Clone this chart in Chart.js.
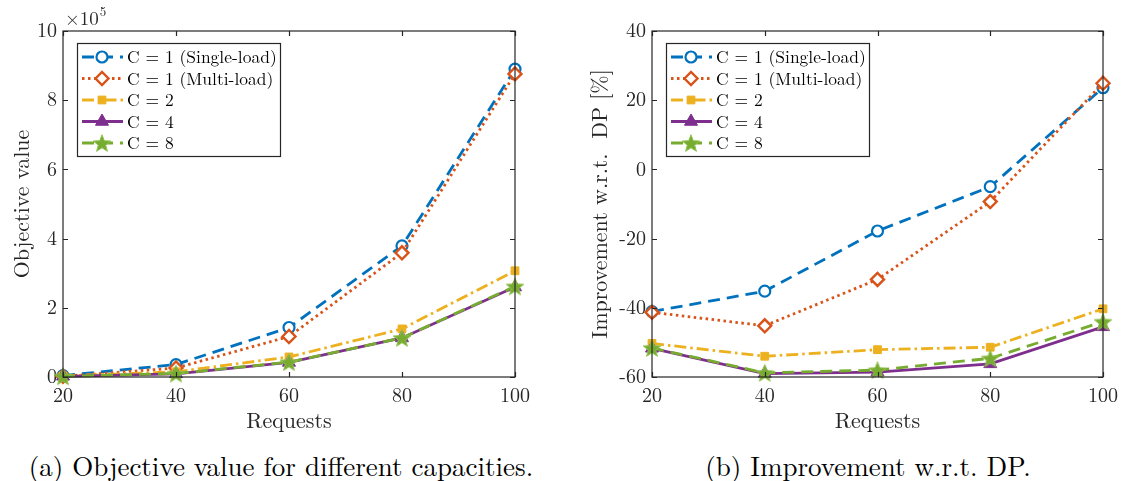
<!DOCTYPE html>
<html>
<head>
<meta charset="utf-8">
<script src="https://cdn.jsdelivr.net/npm/chart.js@4.4.1/dist/chart.umd.min.js"></script>
<style>
  html, body { margin: 0; padding: 0; background: #fff; }
  #wrap { position: relative; width: 1125px; height: 481px; overflow: hidden; }
  #c1 { position: absolute; left: 0; top: 0; }
  #c2 { position: absolute; left: 560px; top: 0; }
  .cap { position: absolute; font-family: 'Latin Modern Roman', 'Liberation Serif', serif; font-size: 27px; color: #000; white-space: nowrap; transform: translate(-50%, -50%); }
</style>
</head>
<body>
<div id="wrap">
  <canvas id="c1" width="560" height="440"></canvas>
  <canvas id="c2" width="565" height="440"></canvas>
  <div class="cap" style="left:281px; top:465px;">(a) Objective value for different capacities.</div>
  <div class="cap" style="left:868px; top:465px;">(b) Improvement w.r.t. DP.</div>
</div>
<script>
// ---- data ----
const requests = [20, 40, 60, 80, 100];
const seriesNames = ['C = 1 (Single-load)', 'C = 1 (Multi-load)', 'C = 2', 'C = 4', 'C = 8'];
// Objective value (x 10^5)
const objSingle = [0.04, 0.36, 1.43, 3.79, 8.9];
const objMulti  = [0.02, 0.26, 1.17, 3.59, 8.76];
const objC2     = [0.03, 0.15, 0.58, 1.39, 3.07];
const objC4     = [0.02, 0.09, 0.42, 1.13, 2.6];
const objC8     = [0.02, 0.10, 0.43, 1.13, 2.62];
// Improvement w.r.t. DP [%]
const impSingle = [-41.1, -35.2, -17.8, -5.0, 23.6];
const impMulti  = [-41.3, -45.2, -31.8, -9.3, 24.9];
const impC2     = [-50.3, -54.0, -52.1, -51.4, -40.3];
const impC4     = [-51.7, -59.0, -58.6, -56.2, -45.5];
const impC8     = [-51.6, -58.8, -58.0, -54.6, -44.0];
const yTicksLeft = [0, 2, 4, 6, 8, 10];
const yTicksRight = [-60, -40, -20, 0, 20, 40];
const xTicks = [20, 40, 60, 80, 100];

const FONT = "'Latin Modern Roman', 'Liberation Serif', serif";
const AXC = '#262626';
const colors = ['#0072BD', '#D95319', '#EDB120', '#7E2F8E', '#77AC30'];
const dashes = [[12, 7], [2.5, 3.5], [12, 4, 2.5, 4], [], [12, 7]];

function makeStar(color) {
  const s = 22, c = document.createElement('canvas');
  c.width = s; c.height = s;
  const g = c.getContext('2d');
  const R = 9.2, r = 3.9, cx = s / 2, cy = s / 2 + 0.9;
  g.beginPath();
  for (let i = 0; i < 10; i++) {
    const a = -Math.PI / 2 + i * Math.PI / 5;
    const rr = i % 2 === 0 ? R : r;
    const px = cx + rr * Math.cos(a), py = cy + rr * Math.sin(a);
    if (i === 0) g.moveTo(px, py); else g.lineTo(px, py);
  }
  g.closePath();
  g.fillStyle = color; g.fill();
  g.lineWidth = 1; g.strokeStyle = '#8fc24f'; g.stroke();
  return c;
}
const starImg = makeStar(colors[4]);

const markerStyles = [
  { pointStyle: 'circle', radius: 5.5, bg: '#ffffff', bw: 2.2 },
  { pointStyle: 'rectRot', radius: 6.5, bg: '#ffffff', bw: 2.4 },
  { pointStyle: 'rect', radius: 5.5, bg: colors[2], bw: 1 },
  { pointStyle: 'triangle', radius: 7.5, bg: colors[3], bw: 1 },
  { pointStyle: starImg, radius: 9, bg: colors[4], bw: 1 }
];

function buildDatasets(arrs) {
  return arrs.map((vals, i) => ({
    label: seriesNames[i],
    data: requests.map((x, j) => ({ x: x, y: vals[j] })),
    borderColor: colors[i],
    backgroundColor: colors[i],
    borderWidth: 2.8,
    borderDash: dashes[i],
    pointStyle: markerStyles[i].pointStyle,
    pointRadius: markerStyles[i].radius,
    pointBackgroundColor: markerStyles[i].bg,
    pointBorderColor: colors[i],
    pointBorderWidth: markerStyles[i].bw,
    pointHoverRadius: markerStyles[i].radius,
    tension: 0,
    clip: false,
    order: 5 - i
  }));
}

const boxPlugin = {
  id: 'boxTicks',
  afterDatasetsDraw(chart) {
    const { ctx, chartArea: a } = chart;
    ctx.save();
    ctx.strokeStyle = AXC; ctx.lineWidth = 1.2; ctx.setLineDash([]);
    ctx.strokeRect(a.left, a.top, a.right - a.left, a.bottom - a.top);
    const L = 5;
    ctx.beginPath();
    chart.scales.x.ticks.forEach(t => {
      const px = Math.round(chart.scales.x.getPixelForValue(t.value)) + 0.5;
      ctx.moveTo(px, a.bottom); ctx.lineTo(px, a.bottom - L);
      ctx.moveTo(px, a.top); ctx.lineTo(px, a.top + L);
    });
    chart.scales.y.ticks.forEach(t => {
      const py = Math.round(chart.scales.y.getPixelForValue(t.value)) + 0.5;
      ctx.moveTo(a.left, py); ctx.lineTo(a.left + L, py);
      ctx.moveTo(a.right, py); ctx.lineTo(a.right - L, py);
    });
    ctx.stroke();
    ctx.restore();
  },
  afterDraw(chart) {
    const { ctx, chartArea: a } = chart;
    const opts = chart.options.plugins.boxTicks || {};
    ctx.save();
    // legend
    const bx = a.left + 14, by = a.top + 12, bw = 203, bh = 113;
    ctx.fillStyle = '#fff';
    ctx.fillRect(bx, by, bw, bh);
    ctx.strokeStyle = AXC; ctx.lineWidth = 1.2;
    ctx.strokeRect(bx + 0.5, by + 0.5, bw, bh);
    chart.data.datasets.forEach((ds, i) => {
      const y = by + 14 + i * 21.5;
      ctx.save();
      ctx.strokeStyle = ds.borderColor; ctx.lineWidth = 2.8;
      ctx.setLineDash(ds.borderDash || []);
      ctx.beginPath(); ctx.moveTo(bx + 5, y); ctx.lineTo(bx + 46, y); ctx.stroke();
      ctx.setLineDash([]);
      const ps = ds.pointStyle;
      if (typeof ps === 'string') {
        ctx.fillStyle = ds.pointBackgroundColor; ctx.strokeStyle = ds.pointBorderColor;
        ctx.lineWidth = ds.pointBorderWidth;
        Chart.helpers.drawPoint(ctx, { pointStyle: ps, radius: ds.pointRadius, borderWidth: ds.pointBorderWidth, rotation: 0 }, bx + 25, y);
      } else {
        ctx.drawImage(ps, bx + 25 - ps.width / 2, y - ps.height / 2);
      }
      ctx.restore();
      ctx.fillStyle = '#000';
      ctx.font = '17.5px ' + FONT;
      ctx.textBaseline = 'middle';
      ctx.fillText(ds.label, bx + 50, y + 1);
    });
    if (opts.exponent) {
      ctx.fillStyle = AXC;
      ctx.textBaseline = 'middle';
      ctx.font = '19px ' + FONT;
      ctx.fillText('\u00d710', a.left + 2, a.top - 12);
      const w = ctx.measureText('\u00d710').width;
      ctx.font = '13px ' + FONT;
      ctx.fillText('5', a.left + 2 + w + 1, a.top - 19);
    }
    ctx.restore();
  }
};

function makeChart(id, arrs, yMin, yMax, yTicks, yTitle, yWidth, yTitlePad, rightPad, exponent) {
  return new Chart(document.getElementById(id), {
    type: 'line',
    data: { datasets: buildDatasets(arrs) },
    options: {
      responsive: false,
      animation: false,
      events: [],
      layout: { padding: { left: 0, right: rightPad, top: 31, bottom: 0 } },
      plugins: { legend: { display: false }, tooltip: { enabled: false }, boxTicks: { exponent: exponent } },
      scales: {
        x: {
          type: 'linear', min: 20, max: 100,
          afterBuildTicks: s => { s.ticks = xTicks.map(v => ({ value: v })); },
          afterFit: s => { s.height = 63; },
          grid: { display: false, drawTicks: false },
          border: { display: false },
          ticks: { padding: 7, color: AXC, font: { family: FONT, size: 20 }, maxRotation: 0 },
          title: { display: true, text: 'Requests', color: AXC, font: { family: FONT, size: 22 }, padding: { top: 0, bottom: 6 } }
        },
        y: {
          type: 'linear', min: yMin, max: yMax,
          afterBuildTicks: s => { s.ticks = yTicks.map(v => ({ value: v })); },
          afterFit: s => { s.width = yWidth; },
          grid: { display: false, drawTicks: false },
          border: { display: false },
          ticks: { padding: 6, color: AXC, font: { family: FONT, size: 20 } },
          title: { display: true, text: yTitle, color: AXC, font: { family: FONT, size: 22 }, padding: { top: yTitlePad, bottom: 0 } }
        }
      }
    },
    plugins: [boxPlugin]
  });
}

makeChart('c1', [objSingle, objMulti, objC2, objC4, objC8], 0, 10, yTicksLeft, 'Objective value', 63, 9, 45, true);
makeChart('c2', [impSingle, impMulti, impC2, impC4, impC8], -60, 40, yTicksRight, 'Improvement w.r.t.  DP [%]', 92, 27, 21, false);
</script>
</body>
</html>
